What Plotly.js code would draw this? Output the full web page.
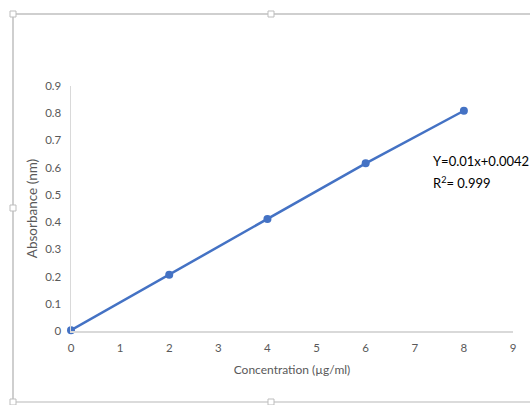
<!DOCTYPE html>
<html>
<head>
<meta charset="utf-8">
<script src="https://cdn.plot.ly/plotly-3.0.1.min.js"></script>
<style>
  html, body { margin: 0; padding: 0; background: #ffffff; }
  #chart { width: 530px; height: 405px; }
</style>
</head>
<body>
<div id="chart"></div>
<script>
// Standard curve: concentration vs absorbance
const concentration = [0, 2, 4, 6, 8];
const absorbance = [0.003, 0.207, 0.411, 0.616, 0.809];
const xTicks = [0, 1, 2, 3, 4, 5, 6, 7, 8, 9];
const yTicks = [0, 0.1, 0.2, 0.3, 0.4, 0.5, 0.6, 0.7, 0.8, 0.9];
const equationText = 'Y=0.01x+0.0042';
const r2Text = 'R<sup>2</sup>= 0.999';

const blue = '#4472C4';
const grey = '#595959';
const axisLine = '#d9d9d9';
const frame = '#cfcfcf';
const fontFamily = 'Lato, "Open Sans", sans-serif';

const margin = { l: 71, r: 17, t: 86, b: 74 };
const W = 530, H = 405;
const pw = W - margin.l - margin.r;
const ph = H - margin.t - margin.b;
// pixel -> paper coordinate helpers for the chart frame
const px = v => (v - margin.l) / pw;
const py = v => (H - margin.b - v) / ph;

const trace = {
  x: concentration,
  y: absorbance,
  type: 'scatter',
  mode: 'lines+markers',
  cliponaxis: false,
  line: { color: blue, width: 2.5 },
  marker: { color: blue, size: 8 },
  hoverinfo: 'x+y'
};

// outer chart frame with selection handles
const shapes = [
  { type: 'line', xref: 'paper', yref: 'paper', x0: px(13), x1: px(540), y0: py(14), y1: py(14), line: { color: frame, width: 2 } },
  { type: 'line', xref: 'paper', yref: 'paper', x0: px(13), x1: px(13), y0: py(14), y1: py(402), line: { color: frame, width: 2 } },
  { type: 'line', xref: 'paper', yref: 'paper', x0: px(13), x1: px(540), y0: py(402), y1: py(402), line: { color: frame, width: 1.5 } }
];
[[13, 14], [271, 14], [13, 208], [13, 402], [271, 402]].forEach(([hx, hy]) => {
  shapes.push({
    type: 'rect', xref: 'paper', yref: 'paper',
    x0: px(hx - 3), x1: px(hx + 3), y0: py(hy - 3), y1: py(hy + 3),
    fillcolor: '#ffffff', line: { color: '#bdbdbd', width: 1 }
  });
});

const layout = {
  width: W,
  height: H,
  margin: margin,
  paper_bgcolor: '#ffffff',
  plot_bgcolor: '#ffffff',
  showlegend: false,
  font: { family: fontFamily, color: grey, size: 11 },
  xaxis: {
    range: [0, 9],
    tickvals: xTicks,
    ticktext: xTicks.map(String),
    showgrid: false,
    zeroline: false,
    showline: true,
    linecolor: axisLine,
    linewidth: 1.5,
    ticks: '',
    ticklabelstandoff: 6,
    tickfont: { size: 11.5, color: grey },
    title: { text: 'Concentration (µg/ml)', font: { size: 12, color: grey }, standoff: 12 },
    fixedrange: true
  },
  yaxis: {
    range: [0, 0.9],
    tickvals: yTicks,
    ticktext: yTicks.map(v => String(v)),
    showgrid: false,
    zeroline: false,
    showline: true,
    linecolor: axisLine,
    linewidth: 1.5,
    ticks: '',
    ticklabelstandoff: 6,
    tickfont: { size: 11.5, color: grey },
    title: { text: 'Absorbance (nm)', font: { size: 13.5, color: grey }, standoff: 4 },
    fixedrange: true
  },
  shapes: shapes,
  annotations: [
    { x: 7.33, y: 0.6245, xref: 'x', yref: 'y', text: equationText, showarrow: false,
      xanchor: 'left', yanchor: 'middle', font: { size: 13, color: '#000000', family: fontFamily } },
    { x: 7.33, y: 0.5437, xref: 'x', yref: 'y', text: r2Text, showarrow: false,
      xanchor: 'left', yanchor: 'middle', font: { size: 13, color: '#000000', family: fontFamily } }
  ]
};

Plotly.newPlot('chart', [trace], layout, { displayModeBar: false, staticPlot: true });
</script>
</body>
</html>
